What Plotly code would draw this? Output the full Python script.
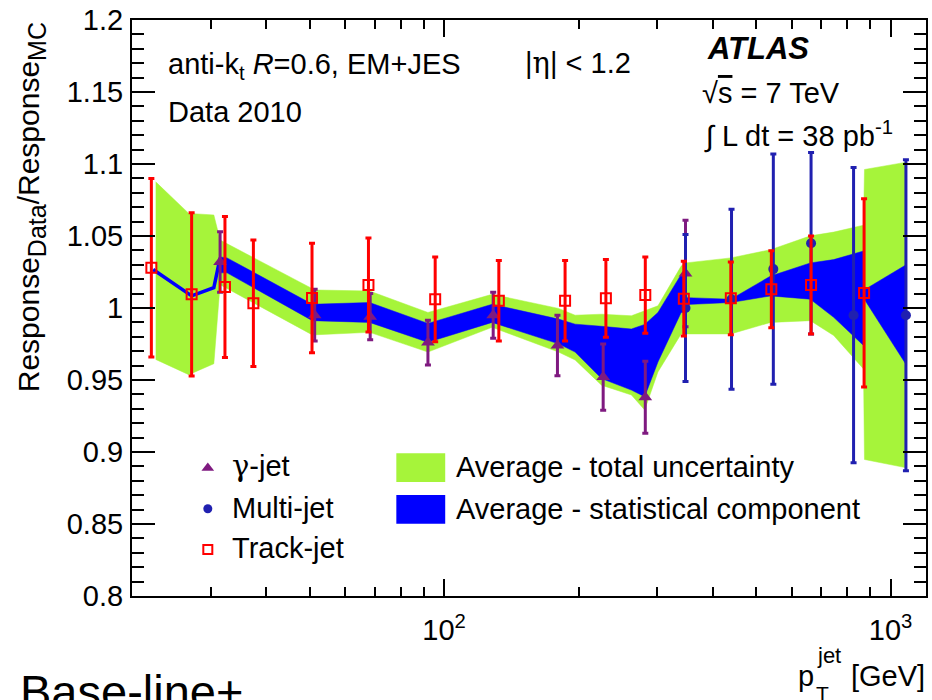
import math
import plotly.graph_objects as go

# ---------------- data ----------------
# gamma-jet balance
gamma_pt = [31.5, 51.3, 68.3, 92.0, 128.8, 179.4, 227.1, 282.2, 347.2]
gamma_r = [1.032, 0.995, 0.994, 0.976, 0.995, 0.974, 0.952, 0.938, 1.024]
gamma_err = [0.021, 0.018, 0.016, 0.0155, 0.016, 0.021, 0.023, 0.025, 0.037]

# multi-jet balance
multi_pt = [347.2, 440.2, 546.1, 663.4, 826.0, 1082.0]
multi_r = [1.000, 1.006, 1.027, 1.045, 0.995, 0.995]
multi_err = [0.051, 0.0625, 0.080, 0.063, 0.1025, 0.108]

# track-jet ratio
track_pt = [22.1, 27.2, 32.3, 37.4, 50.6, 67.7, 95.5, 132.6, 186.6, 230.3,
            282.2, 344.2, 438.6, 540.5, 663.4, 872.0]
track_r = [1.028, 1.0095, 1.0146, 1.0033, 1.007, 1.016, 1.006, 1.005, 1.005,
           1.0067, 1.009, 1.0065, 1.0067, 1.013, 1.016, 1.0105]
track_err = [0.062, 0.0567, 0.049, 0.044, 0.038, 0.0326, 0.0295, 0.028, 0.028,
             0.027, 0.0265, 0.026, 0.0253, 0.0267, 0.034, 0.0654]

# average - total uncertainty band
total_pt = [22.6, 26.8, 30.5, 31.5, 50.7, 51.8, 68.1, 92.0, 128.1, 180.4, 196.5,
            225.2, 262.7, 281.3, 301.2, 339.5, 347.2, 438.6, 538.6, 661.1, 745.6,
            869.4, 873.8, 1085.5]
total_hi = [1.0876, 1.0657, 1.0646, 1.0472, 1.0134, 1.0125, 1.0118, 0.9969, 1.0095,
            0.9997, 0.9950, 0.9957, 0.9946, 0.9983, 1.0015, 1.0291, 1.0313, 1.0348,
            1.0405, 1.0501, 1.0527, 1.0575, 1.0962, 1.1013]
total_lo = [0.9643, 0.9537, 0.9613, 1.0162, 0.9813, 0.9811, 0.9831, 0.9694, 0.9866,
            0.9694, 0.9639, 0.9464, 0.9396, 0.9292, 0.9556, 0.9820, 0.9820, 0.9820,
            0.9900, 0.9912, 0.9809, 0.9577, 0.8948, 0.8890]

# average - statistical component band
stat_pt = [31.5, 32.65, 50.7, 68.1, 92.0, 128.1, 180.4, 196.5, 225.2, 262.7, 281.3,
           301.2, 339.5, 345.0, 349.5, 438.6, 538.6, 661.1, 745.6, 869.4, 873.8, 1085.5]
stat_hi = [1.0355, 1.0348, 1.0026, 1.0038, 0.9893, 1.0026, 0.9923, 0.9888, 0.9873,
           0.9854, 0.9886, 0.9969, 1.0233, 1.0233, 1.0072, 1.0061, 1.0222, 1.0313,
           1.0336, 1.0396, 1.0127, 1.0302]
stat_lo = [1.0244, 1.0244, 0.9912, 0.9900, 0.9762, 0.9900, 0.9751, 0.9694, 0.9510,
           0.9430, 0.9384, 0.9625, 0.9969, 0.9969, 1.0024, 1.0038, 1.0084, 1.0061,
           0.9935, 0.9740, 1.0059, 0.9602]

# average at low pT (track-jet only)
avg_pt = [22.3, 27.2, 30.5, 31.5]
avg_r = [1.0267, 1.0084, 1.0141, 1.0348]

y_ticks = [0.8, 0.85, 0.9, 0.95, 1.0, 1.05, 1.1, 1.15, 1.2]
y_ticktext = ["0.8", "0.85", "0.9", "0.95", "1", "1.05", "1.1", "1.15", "1.2"]
x_ticks = [100, 1000]
x_ticktext = ["10<sup>2</sup>", "10<sup>3</sup>"]
x_minor = [30, 40, 50, 60, 70, 80, 90, 200, 300, 400, 500, 600, 700, 800, 900]

# ---------------- style ----------------
FONT = "Liberation Sans, Arial, Helvetica, sans-serif"
GREEK = "DejaVu Serif, serif"
FS = 29
GREEN = "#A6F43A"
BLUE = "#0000FF"
MJ_BLUE = "#2020B0"
RED = "#FF0000"
PURPLE = "#7F1A80"

W, H = 932, 700
ML, MR, MT, MB = 132, 4, 15, 104
PW, PH = W - ML - MR, H - MT - MB


def px(x):
    return (x - ML) / PW


def py(y):
    return (H - MB - y) / PH


fig = go.Figure()


def add_band(pt, lo, hi, color):
    fig.add_trace(go.Scatter(
        x=list(pt) + list(pt)[::-1],
        y=list(hi) + list(lo)[::-1],
        mode="lines", fill="toself", fillcolor=color,
        line=dict(width=0.5, color=color),
        hoverinfo="skip", showlegend=False))


add_band(total_pt, total_lo, total_hi, GREEN)
add_band(stat_pt, stat_lo, stat_hi, BLUE)
fig.add_trace(go.Scatter(x=avg_pt, y=avg_r, mode="lines",
                         line=dict(color=BLUE, width=3.5), showlegend=False))

fig.add_trace(go.Scatter(
    x=gamma_pt, y=gamma_r, mode="markers",
    marker=dict(symbol="triangle-up", size=12, color=PURPLE),
    error_y=dict(type="data", array=gamma_err, color=PURPLE, thickness=3, width=3),
    showlegend=False))
fig.add_trace(go.Scatter(
    x=multi_pt, y=multi_r, mode="markers",
    marker=dict(symbol="circle", size=10, color=MJ_BLUE),
    error_y=dict(type="data", array=multi_err, color=MJ_BLUE, thickness=3, width=3),
    showlegend=False))
fig.add_trace(go.Scatter(
    x=track_pt, y=track_r, mode="markers",
    marker=dict(symbol="square-open", size=10, color=RED, line=dict(width=2, color=RED)),
    error_y=dict(type="data", array=track_err, color=RED, thickness=3, width=3),
    showlegend=False))

# legend markers drawn on an overlay axis spanning the plot area
fig.add_trace(go.Scatter(
    x=[px(208)], y=[py(467)], xaxis="x2", yaxis="y2", mode="markers",
    marker=dict(symbol="triangle-up", size=11, color=PURPLE), showlegend=False))
fig.add_trace(go.Scatter(
    x=[px(208)], y=[py(508)], xaxis="x2", yaxis="y2", mode="markers",
    marker=dict(symbol="circle", size=9, color=MJ_BLUE), showlegend=False))
fig.add_trace(go.Scatter(
    x=[px(208)], y=[py(549)], xaxis="x2", yaxis="y2", mode="markers",
    marker=dict(symbol="square-open", size=9, color=RED, line=dict(width=2, color=RED)),
    showlegend=False))

shapes = [
    dict(type="rect", xref="paper", yref="paper", x0=px(397), x1=px(446),
         y0=py(481), y1=py(452), fillcolor=GREEN, line=dict(width=0)),
    dict(type="rect", xref="paper", yref="paper", x0=px(397), x1=px(446),
         y0=py(523), y1=py(494), fillcolor=BLUE, line=dict(width=0)),
]


def note(text, x, y, size=FS, xanchor="left", yanchor="middle", **kw):
    return dict(text=text, x=px(x), y=py(y), xref="paper", yref="paper",
                xanchor=xanchor, yanchor=yanchor, showarrow=False,
                font=dict(family=FONT, size=size, color="black"), **kw)


def greek(ch):
    return f"<span style='font-family:{GREEK}'>{ch}</span>"


SUB = "<sub><span style='font-size:25px'>{}</span></sub>"

annotations = [
    note(greek("γ") + "-jet", 230, 465),
    note("Multi-jet", 230, 507),
    note("Track-jet", 230, 548),
    note("Average - total uncertainty", 455, 466),
    note("Average - statistical component", 455, 508),
    note("anti-k<sub>t</sub> <i>R</i>=0.6, EM+JES", 166, 61),
    note("|" + greek("η") + "| < 1.2", 524, 58),
    note("Data 2010", 166, 108),
    note("<b><i>ATLAS</i></b>", 706, 44, size=31),
    note("√<span style='text-decoration:overline'>s</span> = 7 TeV", 701, 89),
    note("∫ L dt = 38 pb<sup>-1</sup>", 703, 130),
    note("Response" + SUB.format("Data") + "/Response" + SUB.format("MC"), 31, 15,
         size=30, xanchor="center", yanchor="top", textangle=-90),
    note("[GeV]", 929, 677, xanchor="right"),
    note("p", 818, 677, xanchor="right"),
    note("jet", 817, 656, size=22),
    note("T", 816, 694, size=21),
    note("Base-line+", 18, 664, size=47, yanchor="top"),
]

axis_common = dict(showline=True, linewidth=2, linecolor="black", mirror="ticks",
                   ticks="inside", tickwidth=2, tickcolor="black",
                   showgrid=False, zeroline=False, ticklabeloverflow="allow",
                   tickfont=dict(family=FONT, size=FS, color="black"))

fig.update_layout(
    width=W, height=H,
    margin=dict(l=ML, r=MR, t=MT, b=MB, pad=0),
    paper_bgcolor="white", plot_bgcolor="white",
    showlegend=False,
    xaxis=dict(type="log", range=[math.log10(20), math.log10(1200)],
               tickmode="array", tickvals=x_ticks, ticktext=x_ticktext, ticklen=17,
               ticklabelstandoff=7,
               minor=dict(tickmode="array", tickvals=x_minor, ticks="inside",
                          ticklen=9, tickwidth=2, tickcolor="black", showgrid=False),
               **axis_common),
    yaxis=dict(range=[0.8, 1.2], tickmode="array", tickvals=y_ticks,
               ticktext=y_ticktext, ticklen=23, ticklabelstandoff=1,
               minor=dict(dtick=0.01, tick0=0.8, ticks="inside", ticklen=12,
                          tickwidth=2, tickcolor="black", showgrid=False),
               **axis_common),
    xaxis2=dict(overlaying="x", range=[0, 1], visible=False, anchor="y2"),
    yaxis2=dict(overlaying="y", range=[0, 1], visible=False, anchor="x2"),
    shapes=shapes,
    annotations=annotations,
    font=dict(family=FONT, color="black"),
)

fig.write_html("out.html")
